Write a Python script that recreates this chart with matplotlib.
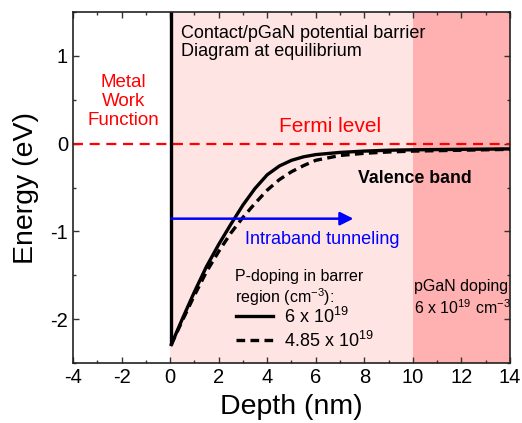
import matplotlib
matplotlib.use("Agg")
import matplotlib.pyplot as plt

plt.rcParams['font.family'] = ['Liberation Sans', 'DejaVu Sans']
plt.rcParams['mathtext.fontset'] = 'custom'
plt.rcParams['mathtext.rm'] = 'Liberation Sans'
plt.rcParams['mathtext.it'] = 'Liberation Sans:italic'
plt.rcParams['mathtext.bf'] = 'Liberation Sans:bold'
plt.rcParams['axes.unicode_minus'] = False

# ---- data ----
depth = [0.05, 0.5, 1.0, 1.5, 2.0, 2.5, 3.0, 3.5, 4.0, 4.5, 5.0, 5.5, 6.0,
         7.0, 8.0, 9.0, 10.0, 12.0, 14.0]
vb_6e19 = [-2.29, -2.00, -1.69, -1.40, -1.15, -0.92, -0.70, -0.51, -0.355,
           -0.255, -0.19, -0.15, -0.125, -0.10, -0.085, -0.075, -0.07, -0.065, -0.06]
vb_485e19 = [-2.29, -2.02, -1.73, -1.46, -1.23, -1.02, -0.84, -0.68, -0.53,
             -0.41, -0.32, -0.25, -0.19, -0.135, -0.11, -0.095, -0.085, -0.075, -0.065]
fermi_level = 0.0
tunnel_energy = -0.855
tunnel_start, tunnel_end = 0.05, 7.55
barrier_region = (0, 10)
pgan_region = (10, 14)
legend_labels = ['6 x 10$^{19}$', '4.85 x 10$^{19}$']

fig = plt.figure(figsize=(5.22, 4.23), dpi=100)
ax = fig.add_axes([0.1398, 0.1418, 0.8372, 0.8298])

ax.set_xlim(-4, 14)
ax.set_ylim(-2.5, 1.5)

ax.axvspan(*barrier_region, color='#FFE4E4', lw=0, zorder=0)
ax.axvspan(*pgan_region, color='#FFB1B1', lw=0, zorder=0)

ax.axhline(fermi_level, color='#FF0000', lw=1.6, ls=(0, (4.5, 3)), zorder=2)

# metal/semiconductor interface
ax.plot([depth[0], depth[0]], [vb_6e19[0], 1.5], color='black', lw=2.4,
        solid_capstyle='butt', zorder=3)

l1, = ax.plot(depth, vb_6e19, color='black', lw=2.4, zorder=4)
l2, = ax.plot(depth, vb_485e19, color='black', lw=2.4, ls=(0, (2.6, 1.6)), zorder=4)

ax.annotate('', xy=(tunnel_end, tunnel_energy), xytext=(tunnel_start, tunnel_energy),
            arrowprops=dict(arrowstyle='-|>', color='#0000FF', lw=1.8,
                            mutation_scale=20, shrinkA=0, shrinkB=0), zorder=5)

ax.text(0.45, 1.35, 'Contact/pGaN potential barrier\nDiagram at equilibrium',
        fontsize=13, va='top', ha='left', linespacing=1.1)
ax.text(-1.93, 0.48, 'Metal\nWork\nFunction', color='#FF0000', fontsize=13.5,
        ha='center', va='center', linespacing=1.15)
ax.text(4.5, 0.19, 'Fermi level', color='#FF0000', fontsize=15, ha='left', va='center')
ax.text(7.74, -0.40, 'Valence band', fontsize=12.8, fontweight='bold',
        ha='left', va='center')
ax.text(3.09, -1.09, 'Intraband tunneling', color='#0000FF', fontsize=13,
        ha='left', va='center')
ax.text(10.06, -1.76, 'pGaN doping\n6 x 10$^{19}$ cm$^{-3}$', fontsize=11.5,
        ha='left', va='center', linespacing=1.25)

ax.text(2.67, -1.65, 'P-doping in barrer\nregion (cm$^{-3}$):', fontsize=11.5,
        ha='left', va='center', linespacing=1.15)
leg = ax.legend([l1, l2], legend_labels, fontsize=13, frameon=False,
                loc='center left', bbox_to_anchor=(0.372, 0.098),
                handlelength=2.1, handletextpad=0.6, labelspacing=0.2,
                borderpad=0.0, borderaxespad=0.0)

ax.set_xticks(range(-4, 15, 2))
ax.set_xticks(range(-3, 15, 2), minor=True)
ax.set_yticks([-2, -1, 0, 1])
ax.set_yticks([-2.5, -1.5, -0.5, 0.5, 1.5], minor=True)
ax.tick_params(which='both', direction='in', top=True, right=True, width=1.0,
               labelsize=14.5, color='#333333')
ax.tick_params(which='major', length=4.5)
ax.tick_params(which='minor', length=2.5)
for s in ax.spines.values():
    s.set_linewidth(1.2)
    s.set_color('#222222')

ax.set_xlabel('Depth (nm)', fontsize=20.5, labelpad=5)
ax.set_ylabel('Energy (eV)', fontsize=20.5, labelpad=8)

fig.savefig('out.png', dpi=100)
